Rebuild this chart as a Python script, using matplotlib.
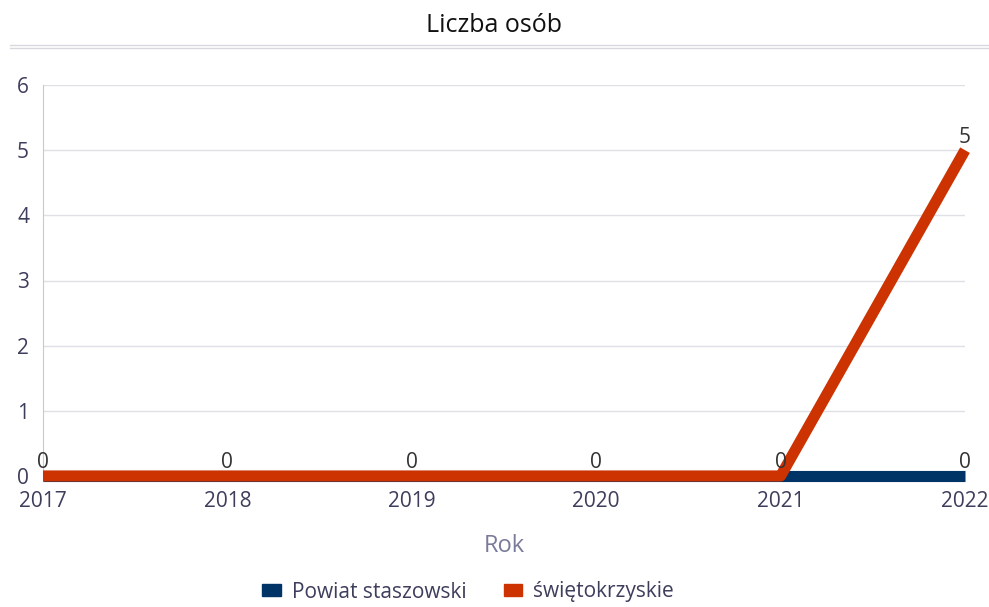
import matplotlib
matplotlib.use("Agg")
import matplotlib.pyplot as plt
from matplotlib.lines import Line2D
from matplotlib.patches import Patch

years = [2017, 2018, 2019, 2020, 2021, 2022]
powiat = [0, 0, 0, 0, 0, 0]
swietokrzyskie = [0, 0, 0, 0, 0, 5]
series_names = ["Powiat staszowski", "świętokrzyskie"]
colors = ["#003366", "#cc3300"]

plt.rcParams["font.family"] = ["Open Sans", "DejaVu Sans"]

fig = plt.figure(figsize=(9.89, 6.07), dpi=100)
ax = fig.add_axes([43 / 989, 131 / 607, 922 / 989, 391 / 607])

ax.plot(years, powiat, color=colors[0], lw=8, clip_on=False, zorder=3,
        solid_capstyle="butt")
ax.plot(years, swietokrzyskie, color=colors[1], lw=8, clip_on=False, zorder=4,
        solid_capstyle="butt")

# etykiety wartości
for x, v in zip(years, powiat):
    if x == 2022:
        ax.text(x, v + 0.04, str(v), ha="center", va="bottom", fontsize=15,
                color="#333333", zorder=5)
for x, v in zip(years, swietokrzyskie):
    ax.text(x, v + 0.04, str(v), ha="center", va="bottom", fontsize=15,
            color="#333333", zorder=5)

ax.set_xlim(2017, 2022)
ax.set_ylim(0, 6)
ax.set_yticks(range(0, 7))
ax.set_xticks(years)
ax.grid(axis="y", color="#e0e0e6", lw=1)
ax.set_axisbelow(True)
for s in ["top", "right", "bottom"]:
    ax.spines[s].set_visible(False)
ax.spines["left"].set_color("#c8c8d8")
ax.tick_params(length=0, labelsize=15, colors="#3d3d5c")
ax.tick_params(axis="y", pad=10)
ax.tick_params(axis="x", pad=11)

ax.set_xlabel("Rok", fontsize=17, color="#7a7a9a", labelpad=16)

fig.text(0.5, 1 - 25 / 607, "Liczba osób", ha="center", va="center",
         fontsize=18, color="#111111")
fig.add_artist(Line2D([10 / 989, 1], [1 - 45 / 607] * 2, color="#d8d8e0", lw=1))
fig.add_artist(Line2D([10 / 989, 1], [1 - 47.5 / 607] * 2, color="#d8d8e0", lw=1))

handles = [Patch(color=c, label=n) for c, n in zip(colors, series_names)]
fig.legend(handles=handles, loc="center", bbox_to_anchor=(468 / 989, 1 - 592 / 607),
           ncol=2, frameon=False, fontsize=15, handlelength=0.9,
           handleheight=0.5, columnspacing=1.8, handletextpad=0.5,
           labelcolor="#3d3d5c")

fig.savefig("out.png", dpi=100)
